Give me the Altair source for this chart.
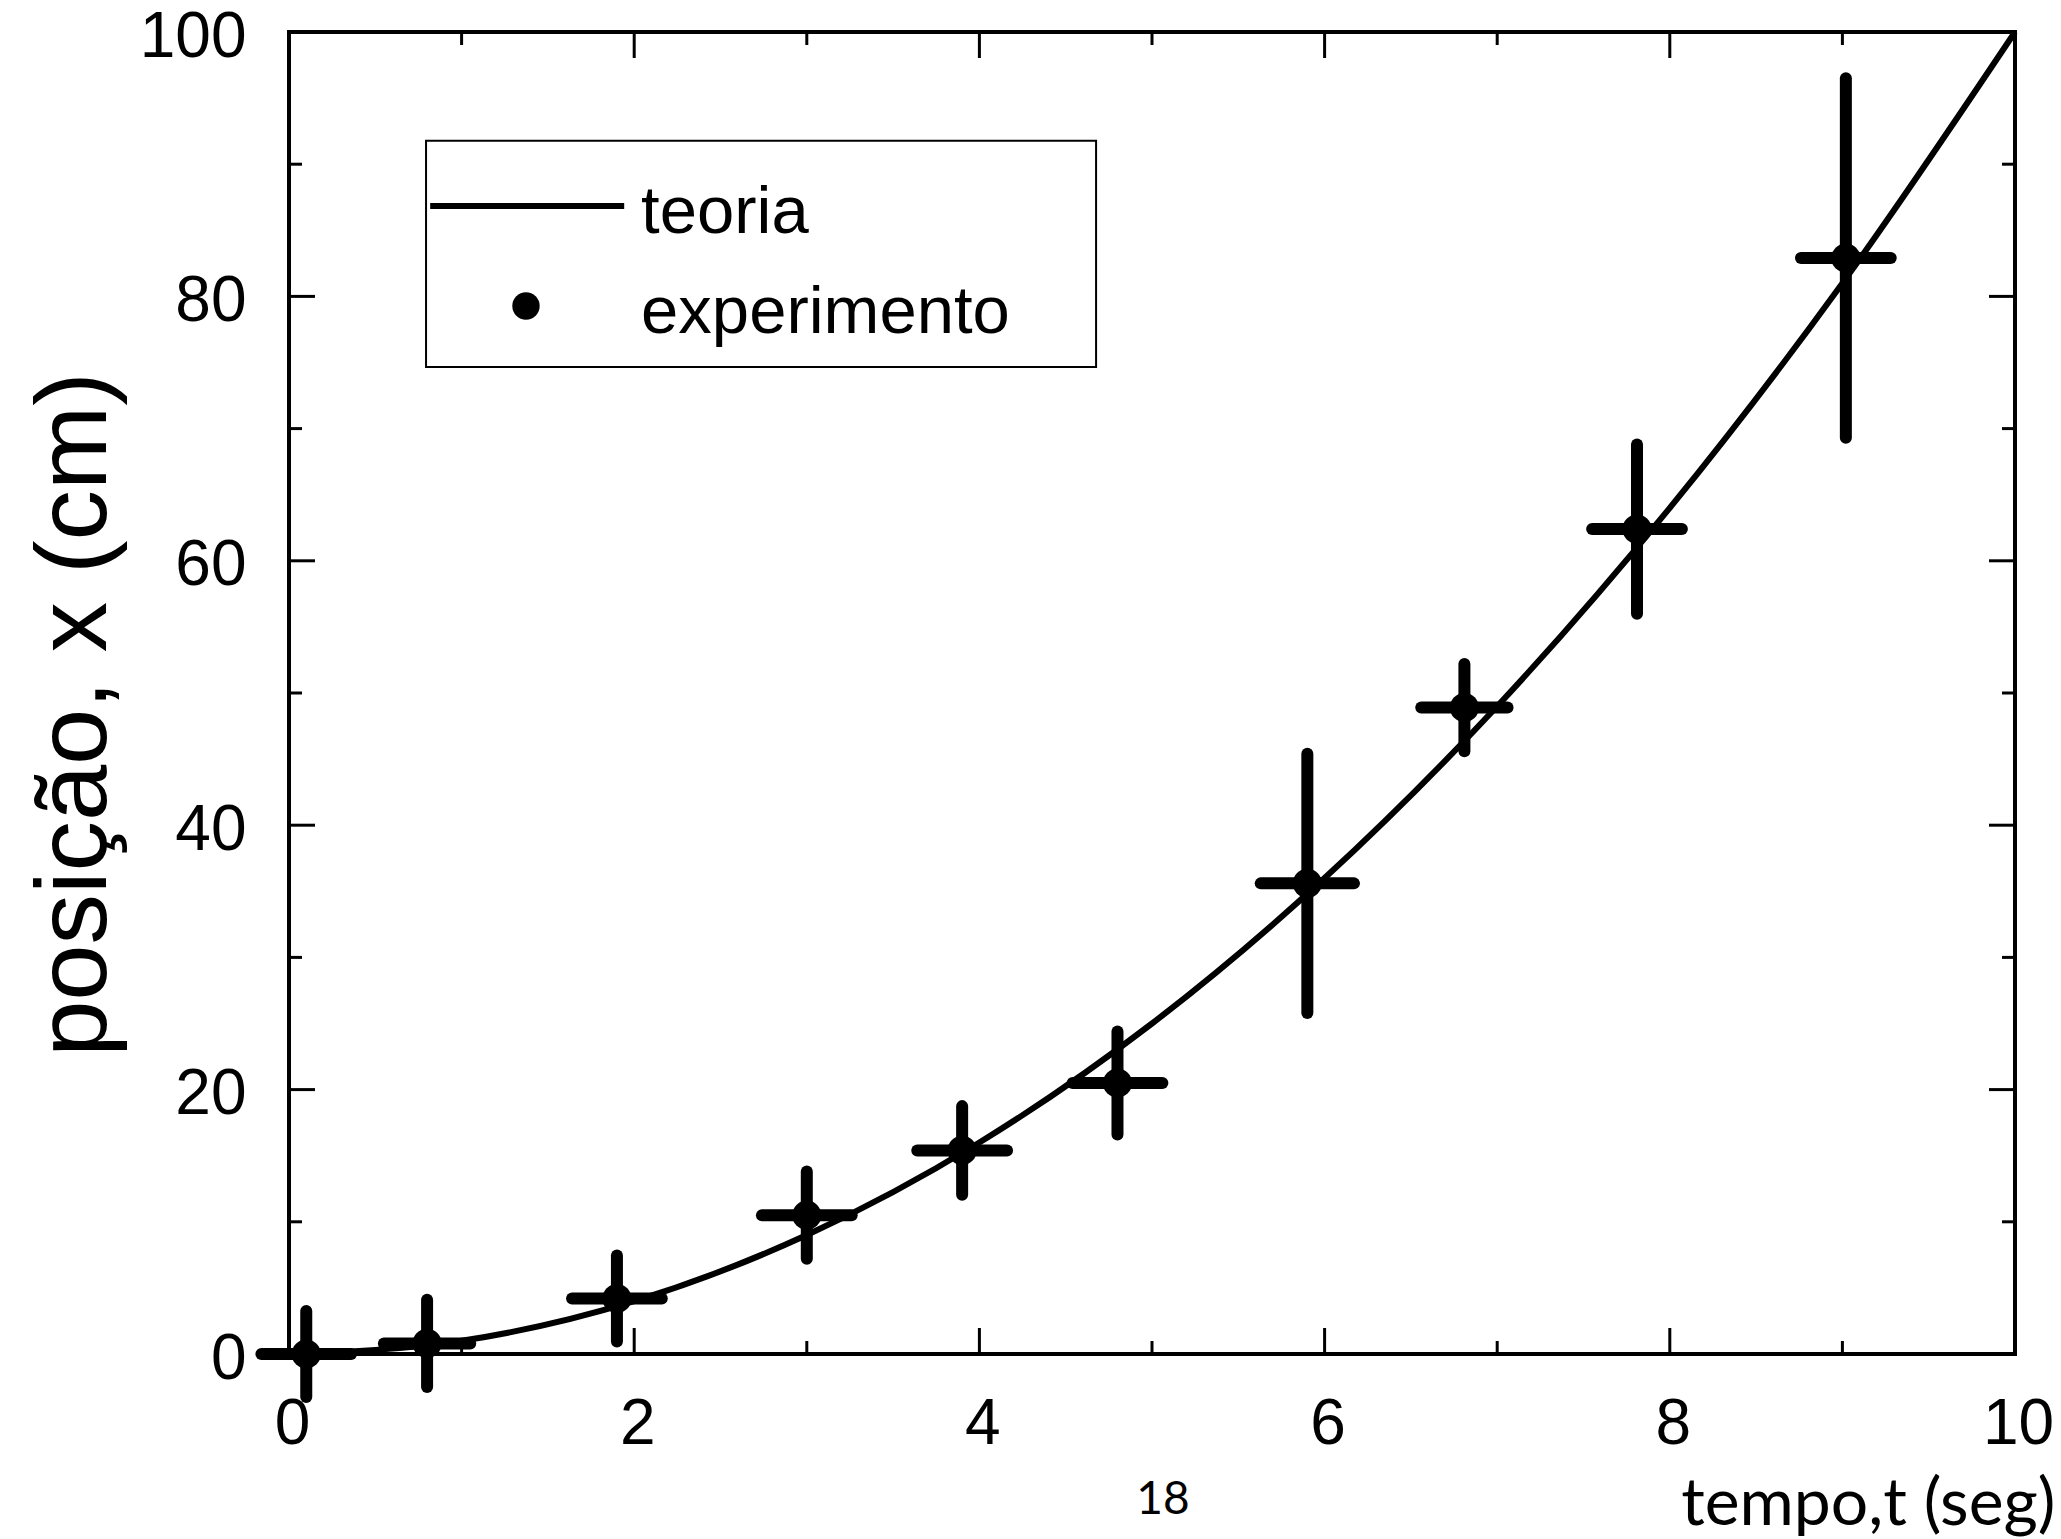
import altair as alt
import pandas as pd

# ---------------- data ----------------
t_exp = [0.10, 0.80, 1.90, 3.00, 3.90, 4.80, 5.90, 6.81, 7.81, 9.02]
x_exp = [0.0, 0.8, 4.2, 10.5, 15.4, 20.5, 35.6, 48.9, 62.4, 82.9]
x_err = [3.25, 3.3, 3.25, 3.3, 3.35, 3.9, 9.8, 3.3, 6.4, 13.6]
t_err = [0.26, 0.25, 0.26, 0.26, 0.26, 0.26, 0.27, 0.25, 0.26, 0.26]

t_theory = [0, 1, 2, 3, 4, 5, 6, 7, 8, 9, 10]
x_theory = [0, 1, 4, 9, 16, 25, 36, 49, 64, 81, 100]

x_major = [0, 2, 4, 6, 8, 10]
x_minor = [1, 3, 5, 7, 9]
y_major = [0, 20, 40, 60, 80, 100]
y_minor = [10, 30, 50, 70, 90]

legend_labels = ["teoria", "experimento"]

# ---------------- layout ----------------
W, H = 1726, 1322
MAJ, MIN = 26, 13

xs = alt.Scale(domain=[0, 10], nice=False, zero=False)
ys = alt.Scale(domain=[0, 100], nice=False, zero=False)

x_axis = alt.Axis(
    values=x_major, title="tempo,t (seg)", titleFont="Lato", titleFontSize=66,
    titleFontWeight="normal", titleColor="black", titleX=1766, titleY=170,
    titleAlign="right", titleBaseline="alphabetic", labelPadding=38, labelOffset=3,
    labelFlush=False, labelOverlap=False, domain=False, ticks=False, grid=False,
    labelFont="Liberation Sans", labelFontSize=64, labelColor="black")
y_axis = alt.Axis(
    values=y_major, title="posição, x (cm)", titleFont="Liberation Sans", titleFontSize=101,
    titleFontWeight="normal", titleColor="black", titleAngle=270, titleX=-214, titleY=682,
    titleAlign="center", titleBaseline="middle", labelPadding=43, labelOffset=5,
    labelFlush=False, labelOverlap=False, domain=False, ticks=False, grid=False,
    labelFont="Liberation Sans", labelFontSize=64, labelColor="black")

def X(field):
    return alt.X(field, scale=xs, axis=x_axis)

def Y(field):
    return alt.Y(field, scale=ys, axis=y_axis)

exp = pd.DataFrame({"t": t_exp, "x": x_exp, "xe": x_err, "te": t_err})
exp["x_lo"] = exp["x"] - exp["xe"]
exp["x_hi"] = exp["x"] + exp["xe"]
exp["t_lo"] = exp["t"] - exp["te"]
exp["t_hi"] = exp["t"] + exp["te"]

theory = pd.DataFrame({"t": t_theory, "x": x_theory})

line = alt.Chart(theory).mark_line(color="black", strokeWidth=6, interpolate="monotone").encode(
    x=X("t:Q"), y=Y("x:Q"))

vbars = alt.Chart(exp).mark_rule(color="black", strokeWidth=12, strokeCap="round").encode(
    x=X("t:Q"), y=Y("x_lo:Q"), y2="x_hi:Q")
hbars = alt.Chart(exp).mark_rule(color="black", strokeWidth=12, strokeCap="round").encode(
    x=X("t_lo:Q"), x2="t_hi:Q", y=Y("x:Q"))
pts = alt.Chart(exp).mark_circle(color="black", opacity=1, size=850).encode(
    x=X("t:Q"), y=Y("x:Q"))

# inside ticks on all four sides
def xticks(vals, length):
    d = pd.DataFrame({"v": vals})
    b = alt.Chart(d).mark_rule(color="black", strokeWidth=3).encode(
        x=X("v:Q"), y=alt.value(H), y2=alt.value(H - length))
    t = alt.Chart(d).mark_rule(color="black", strokeWidth=3).encode(
        x=X("v:Q"), y=alt.value(0), y2=alt.value(length))
    return [b, t]

def yticks(vals, length):
    d = pd.DataFrame({"v": vals})
    l = alt.Chart(d).mark_rule(color="black", strokeWidth=3).encode(
        y=Y("v:Q"), x=alt.value(0), x2=alt.value(length))
    r = alt.Chart(d).mark_rule(color="black", strokeWidth=3).encode(
        y=Y("v:Q"), x=alt.value(W), x2=alt.value(W - length))
    return [l, r]

ticks = xticks(x_major, MAJ) + xticks(x_minor, MIN) + yticks(y_major, MAJ) + yticks(y_minor, MIN)

# manual legend box (in data units)
box = pd.DataFrame({"t1": [0.794], "t2": [4.676], "y1": [74.66], "y2": [91.78]})
legend_box = alt.Chart(box).mark_rect(fill="white", stroke="black", strokeWidth=2).encode(
    x=X("t1:Q"), x2="t2:Q", y=Y("y1:Q"), y2="y2:Q")
leg_line_df = pd.DataFrame({"t1": [0.818], "t2": [1.942], "y": [86.84]})
legend_line = alt.Chart(leg_line_df).mark_rule(color="black", strokeWidth=6).encode(
    x=X("t1:Q"), x2="t2:Q", y=Y("y:Q"))
leg_dot_df = pd.DataFrame({"t": [1.373], "y": [79.27]})
legend_dot = alt.Chart(leg_dot_df).mark_circle(color="black", opacity=1, size=750).encode(
    x=X("t:Q"), y=Y("y:Q"))
leg_txt_df = pd.DataFrame({"t": [2.04, 2.04], "y": [84.8, 77.2], "label": legend_labels})
legend_text = alt.Chart(leg_txt_df).mark_text(
    align="left", baseline="alphabetic", font="Liberation Sans", fontSize=67, color="black"
).encode(x=X("t:Q"), y=Y("y:Q"), text="label:N")

page_df = pd.DataFrame({"label": ["18"]})
page_num = alt.Chart(page_df).mark_text(
    align="center", baseline="middle", font="Lato", fontSize=46, color="black"
).encode(x=alt.value(874), y=alt.value(1468), text="label:N")

chart = alt.layer(
    *ticks, line, vbars, hbars, pts, legend_box, legend_line, legend_dot, legend_text, page_num
).properties(
    width=W, height=H,
    padding={"left": 289, "top": 32, "right": 46, "bottom": 185},
    autosize=alt.AutoSizeParams(type="none"),
    background="white",
).configure_view(
    stroke="black", strokeWidth=4
)

chart.save("out.html", embed_options={"renderer": "svg", "actions": False})
